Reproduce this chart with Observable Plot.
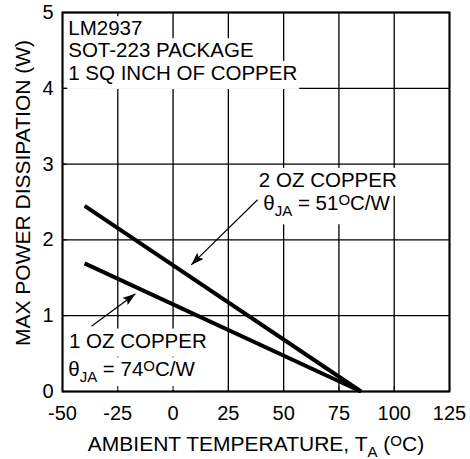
<!DOCTYPE html>
<html>
<head>
<meta charset="utf-8">
<script src="https://cdn.jsdelivr.net/npm/d3@7"></script>
<script src="https://cdn.jsdelivr.net/npm/@observablehq/plot@0.6"></script>
<style>
  html, body { margin: 0; padding: 0; background: white; }
</style>
</head>
<body>
<div id="chart"></div>
<script>
// ---- data ----
const xTicks = [-50, -25, 0, 25, 50, 75, 100, 125];
const yTicks = [0, 1, 2, 3, 4, 5];
const seriesNames = ["2 OZ COPPER", "1 OZ COPPER"];
const temperature = [-40, 85];
const power2oz = [2.45, 0];
const power1oz = [1.69, 0];

const noteText = ["LM2937", "SOT-223 PACKAGE", "1 SQ INCH OF COPPER",
                  "2 OZ COPPER", "θ_{JA} = 51^{O}C/W",
                  "1 OZ COPPER", "θ_{JA} = 74^{O}C/W"];
const noteX = [-47.4, -47.4, -47.4, 38.8, 40.8, -47.1, -47.4];
const noteY = [4.70, 4.41, 4.11, 2.70, 2.39, 0.58, 0.20];

const arrowX1 = [38.2, -36.9];
const arrowY1 = [2.53, 0.86];
const arrowX2 = [8.2, -17.0];
const arrowY2 = [1.67, 1.29];

const xLabel = "AMBIENT TEMPERATURE, T_{A} (^{O}C)";
const yLabel = "MAX POWER DISSIPATION (W)";

// ---- tables built from the arrays ----
const lines = [];
[power2oz, power1oz].forEach((p, s) =>
  temperature.forEach((t, i) => lines.push({series: seriesNames[s], t, p: p[i]})));
const notes = noteText.map((text, i) => ({text, x: noteX[i], y: noteY[i]}));
const arrows = arrowX1.map((x1, i) => ({x1, y1: arrowY1[i], x2: arrowX2[i], y2: arrowY2[i]}));

const font = "'Liberation Sans', Arial, Helvetica, sans-serif";
const fmt = d => String(d);

const plot = Plot.plot({
  width: 470,
  height: 459,
  marginLeft: 62,
  marginRight: 21,
  marginTop: 12,
  marginBottom: 68,
  style: {fontFamily: font, fontSize: "20px", color: "black", background: "white"},
  x: {domain: [-50, 125]},
  y: {domain: [0, 5]},
  marks: [
    Plot.gridX(xTicks, {stroke: "black", strokeOpacity: 1, strokeWidth: 1.3}),
    Plot.gridY(yTicks, {stroke: "black", strokeOpacity: 1, strokeWidth: 1.3}),
    Plot.line(lines, {x: "t", y: "p", z: "series", stroke: "black", strokeWidth: 4, strokeLinecap: "butt"}),
    Plot.link(arrows, {x1: "x1", y1: "y1", x2: "x2", y2: "y2", stroke: "black", strokeWidth: 1.2}),
    Plot.text(notes, {x: "x", y: "y", text: "text", textAnchor: "start", lineAnchor: "bottom",
                      fontSize: 20.5, fill: "black"}),
    Plot.axisX(xTicks, {tickSize: -5, tickFormat: () => "", fill: "none", label: null}),
    Plot.axisY(yTicks, {tickSize: -5, tickFormat: () => "", fill: "none", label: null}),
    Plot.axisX(xTicks, {tickSize: 0, tickPadding: 14, fontSize: 20, tickFormat: fmt, label: xLabel,
                        labelAnchor: "center", labelOffset: 59, labelArrow: "none"}),
    Plot.axisY(yTicks, {tickSize: 0, tickPadding: 9, fontSize: 20, tickFormat: fmt, label: yLabel,
                        labelAnchor: "center", labelOffset: 47, labelArrow: "none"}),
    Plot.frame({stroke: "black", strokeWidth: 2})
  ]
});

document.getElementById("chart").appendChild(plot);

// ---- post-processing: sub/superscripts, arrowheads, text backgrounds ----
const ns = "http://www.w3.org/2000/svg";
function richify(el) {
  const s = el.textContent;
  if (!/[_^]\{/.test(s)) return;
  while (el.firstChild) el.removeChild(el.firstChild);
  const re = /([_^])\{([^}]*)\}|([^_^]+)/g;
  let m, offset = 0;
  while ((m = re.exec(s))) {
    const t = document.createElementNS(ns, "tspan");
    if (m[3] !== undefined) {
      t.textContent = m[3];
      if (offset) t.setAttribute("dy", -offset);
      offset = 0;
    } else {
      const shift = m[1] === "_" ? 6 : -5;
      t.textContent = m[2];
      t.setAttribute("font-size", 15);
      t.setAttribute("dy", shift - offset);
      offset = shift;
    }
    el.appendChild(t);
  }
}
plot.querySelectorAll("text").forEach(richify);

// axis titles slightly larger than tick labels, as in the reference
plot.querySelectorAll('g[aria-label="x-axis label"], g[aria-label="y-axis label"]').forEach(g => {
  g.setAttribute("font-size", 21);
  g.querySelectorAll("text").forEach(t => t.setAttribute("font-size", 21));
});

// arrowhead marker
const defs = document.createElementNS(ns, "defs");
const marker = document.createElementNS(ns, "marker");
marker.setAttribute("id", "ahead");
marker.setAttribute("viewBox", "0 0 13 9");
marker.setAttribute("refX", "13");
marker.setAttribute("refY", "4.5");
marker.setAttribute("markerWidth", "13");
marker.setAttribute("markerHeight", "9");
marker.setAttribute("markerUnits", "userSpaceOnUse");
marker.setAttribute("orient", "auto");
const mp = document.createElementNS(ns, "path");
mp.setAttribute("d", "M0,0L13,4.5L0,9L2.5,4.5Z");
mp.setAttribute("fill", "black");
marker.appendChild(mp);
defs.appendChild(marker);
plot.insertBefore(defs, plot.firstChild);
plot.querySelectorAll('g[aria-label="link"] path, g[aria-label="link"] line').forEach(p => {
  p.setAttribute("marker-end", "url(#ahead)");
});

// white boxes behind annotation text
plot.querySelectorAll('g[aria-label="text"] text').forEach(el => {
  const bb = el.getBBox();
  const r = document.createElementNS(ns, "rect");
  r.setAttribute("x", bb.x - 1);
  r.setAttribute("y", bb.y);
  r.setAttribute("width", bb.width + 3);
  r.setAttribute("height", bb.height + 5);
  r.setAttribute("fill", "white");
  r.setAttribute("stroke", "none");
  const tr = el.getAttribute("transform");
  if (tr) r.setAttribute("transform", tr);
  el.parentNode.insertBefore(r, el);
});

// nudge y-axis title to match the reference position
const yl = plot.querySelector('g[aria-label="y-axis label"]');
if (yl) yl.setAttribute("transform", ((yl.getAttribute("transform") || "") + " translate(0,-9)").trim());
</script>
</body>
</html>
